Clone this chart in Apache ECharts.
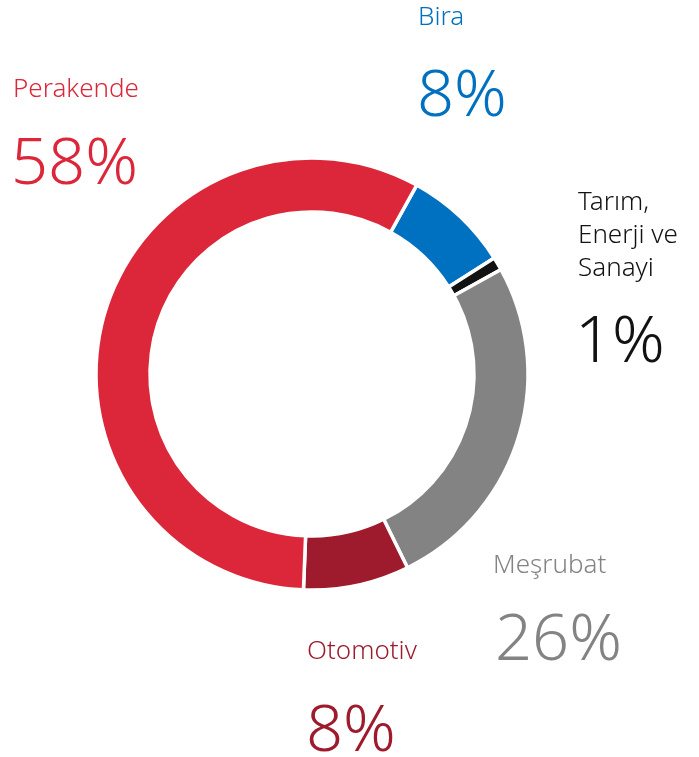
<!DOCTYPE html>
<html>
<head>
<meta charset="utf-8">
<script src="https://cdn.jsdelivr.net/npm/echarts@6/dist/echarts.min.js"></script>
<style>
  html, body { margin: 0; padding: 0; background: #fff; }
  #chart { width: 699px; height: 757px; }
</style>
</head>
<body>
<div id="chart"></div>
<script>
// segment data, clockwise from the top right
const sectors = ['Bira', 'Tarım,\nEnerji ve\nSanayi', 'Meşrubat', 'Otomotiv', 'Perakende']
const shares = [8, 1, 26, 8, 58]
const colors = ['#0070c0', '#121212', '#828382', '#9d1b2d', '#dc2639']

// where each label block sits: [name x, centre of first name line, percent x, centre of percent]
const labelSpots = [
  [418, 18, 417, 97],
  [578, 203, 575, 343],
  [493, 566, 495, 641],
  [307, 652, 306, 732],
  [13, 90, 11, 165]
]

const font = '"Noto Sans", "Open Sans", sans-serif'
const nameSize = 26
const pctSize = 65
const lineGap = 33

const texts = []
sectors.forEach((name, i) => {
  const [xName, yName, xPct, yPct] = labelSpots[i]
  name.split('\n').forEach((line, k) => {
    texts.push({
      type: 'text',
      x: xName,
      y: yName + k * lineGap,
      style: {
        text: line,
        fill: colors[i],
        font: '300 ' + nameSize + 'px ' + font,
        textVerticalAlign: 'middle'
      }
    })
  })
  texts.push({
    type: 'text',
    x: xPct,
    y: yPct,
    style: {
      text: shares[i] + '%',
      fill: colors[i],
      font: '300 ' + pctSize + 'px ' + font,
      textVerticalAlign: 'middle'
    }
  })
})

const chart = echarts.init(document.getElementById('chart'))
chart.setOption({
  animation: false,
  backgroundColor: '#fff',
  series: [
    {
      type: 'pie',
      center: [312, 374],
      radius: [162, 216],
      startAngle: 61,
      clockwise: true,
      silent: true,
      label: { show: false },
      labelLine: { show: false },
      itemStyle: { borderColor: '#fff', borderWidth: 3.5 },
      data: sectors.map((name, i) => ({
        name: name,
        value: shares[i],
        itemStyle: { color: colors[i] }
      }))
    }
  ],
  graphic: texts
})
</script>
</body>
</html>
